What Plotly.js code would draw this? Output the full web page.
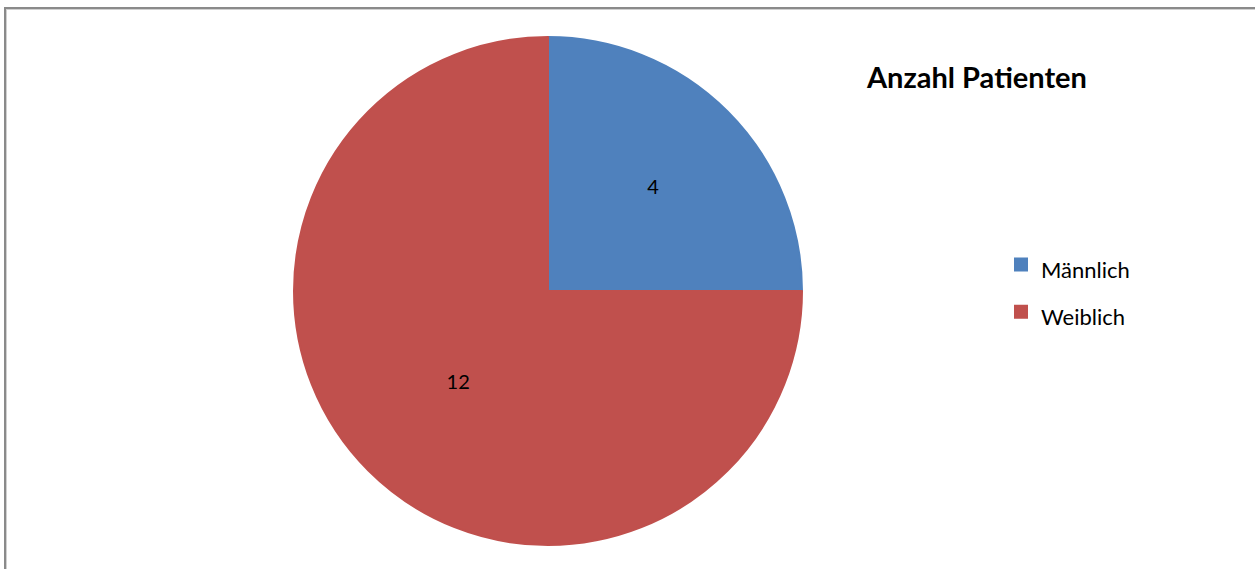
<!DOCTYPE html>
<html>
<head>
<meta charset="utf-8">
<script src="https://cdn.plot.ly/plotly-3.0.1.min.js"></script>
<style>
  html, body { margin: 0; padding: 0; background: #ffffff; }
  #wrap { position: relative; width: 1255px; height: 569px; overflow: hidden; }
  #chart { width: 1255px; height: 569px; }
  #frame {
    position: absolute; left: 4px; top: 7px; right: -20px; bottom: -20px;
    border-top: 2px solid #8a8a8a; border-left: 2px solid #8a8a8a;
    box-shadow: inset 1px 1px 0 #d0d0d0;
    pointer-events: none;
  }
</style>
</head>
<body>
<div id="wrap"><div id="chart"></div><div id="frame"></div></div>
<script>
// ---- data ----
const categories = ['Männlich', 'Weiblich'];
const patientCounts = [4, 12];
const sliceColors = ['#4F81BD', '#C0504D'];
const chartTitle = 'Anzahl Patienten';

const W = 1255, H = 569;
const legendLabels = categories.map(c => '<span style="font-size:22px">' + c + '</span>');

const trace = {
  type: 'pie',
  labels: legendLabels,
  values: patientCounts,
  sort: false,
  direction: 'clockwise',
  rotation: 0,
  marker: { colors: sliceColors, line: { color: sliceColors, width: 2 } },
  textinfo: 'value',
  textposition: 'inside',
  insidetextorientation: 'horizontal',
  textfont: { family: 'Lato, sans-serif', size: 20, color: '#000000' },
  hoverinfo: 'label+value',
  domain: { x: [294 / W, 802 / W], y: [24 / H, 532 / H] }
};

const layout = {
  width: W, height: H,
  margin: { l: 0, r: 0, t: 0, b: 0 },
  paper_bgcolor: '#ffffff',
  title: {
    text: chartTitle,
    x: 867 / W, xanchor: 'left',
    y: 1 - 78 / H, yanchor: 'middle',
    font: { family: 'Lato, sans-serif', size: 29, color: '#000000', weight: 'bold' }
  },
  showlegend: true,
  legend: {
    x: 1001 / W, xanchor: 'left',
    y: 1 - 236 / H, yanchor: 'top',
    font: { family: 'Lato, sans-serif', size: 34, color: '#000000' },
    bgcolor: 'rgba(0,0,0,0)', borderwidth: 0
  }
};

Plotly.newPlot('chart', [trace], layout, { displayModeBar: false });
</script>
</body>
</html>
